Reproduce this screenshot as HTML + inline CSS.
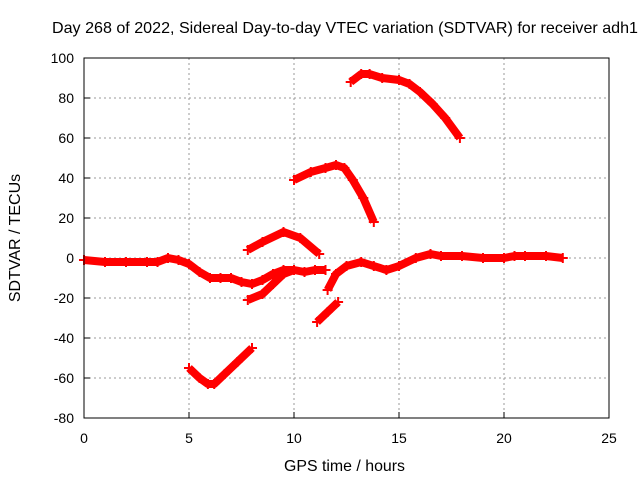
<!DOCTYPE html>
<html><head><meta charset="utf-8"><style>
body{margin:0;background:#fff}
svg text{font-family:"Liberation Sans",sans-serif;font-size:14px;fill:#000}
svg text.big{font-size:16px}
</style></head><body>
<svg id="chart" width="640" height="480">
<rect width="640" height="480" fill="#fff"/>
<text class="big" x="52" y="33" textLength="586" lengthAdjust="spacingAndGlyphs">Day 268 of 2022, Sidereal Day-to-day VTEC variation (SDTVAR) for receiver adh1</text>
<text class="big" x="284" y="471" textLength="121" lengthAdjust="spacingAndGlyphs">GPS time / hours</text>
<text class="big" transform="translate(20,238) rotate(-90)" text-anchor="middle">SDTVAR / TECUs</text>
<g id="grid"></g><g id="ticks"></g><g id="series"></g>
<rect x="84" y="58" width="525" height="360" fill="none" stroke="#000" stroke-width="1"/>
</svg>
<script>
const xTicks=[0,5,10,15,20,25];
const yTicks=[-80,-60,-40,-20,0,20,40,60,80,100];
const segA=[[0,-1],[1,-2],[2,-2],[3,-2],[3.5,-2],[4,0],[4.5,-1],[5,-3],[5.5,-7],[6,-10],[6.5,-10],[7,-10],[7.5,-12],[8,-13],[8.5,-11],[9,-8],[9.5,-6],[10,-6],[10.5,-7],[11,-6],[11.5,-6]];
const segB=[[7.8,-21],[8.5,-18],[9,-13],[9.5,-8],[10,-6]];
const segC=[[7.8,4],[8.5,8],[9.5,13],[10.3,10],[11.2,2]];
const segD=[[5,-55],[5.5,-60],[5.9,-63],[6.2,-63],[6.7,-58],[7.3,-52],[8,-45]];
const segE=[[10,39],[10.8,43],[11.5,45],[12,46.5],[12.4,45],[12.8,39],[13.3,30],[13.8,18]];
const segF=[[12.7,88],[13.2,92],[13.6,92],[14.2,90],[15,89],[15.5,87],[16,83],[16.6,77],[17.2,70],[17.9,60]];
const segG=[[11.1,-32],[11.6,-27],[12.1,-22]];
const segH=[[11.6,-16],[12,-8],[12.5,-4],[13.2,-2],[13.8,-4],[14.4,-6],[15,-4],[15.8,0],[16.5,2],[17,1],[18,1],[19,0],[20,0],[20.5,1],[21,1],[22,1],[22.8,0]];
const segments=[segA,segB,segC,segD,segE,segF,segG,segH];
const X=v=>84+v*21, Y=v=>258-v*2;
const NS='http://www.w3.org/2000/svg';
const g=document.getElementById('grid'), t=document.getElementById('ticks'), s=document.getElementById('series');
function mk(tag,attrs,parent){const e=document.createElementNS(NS,tag);for(const k in attrs)e.setAttribute(k,attrs[k]);parent.appendChild(e);return e;}
xTicks.forEach(v=>{
 if(v>0&&v<25){const l=mk('line',{x1:X(v),x2:X(v),y1:58,y2:418,stroke:'#999','stroke-dasharray':'2,3'},g);
 
 }
 mk('line',{x1:X(v),x2:X(v),y1:418,y2:412,stroke:'#000'},t);
 const tx=mk('text',{x:X(v),y:443,'text-anchor':'middle'},t);tx.textContent=v;
 
 
});
yTicks.forEach(v=>{
 if(v>-80&&v<100){const l=mk('line',{x1:84,x2:609,y1:Y(v),y2:Y(v),stroke:'#999','stroke-dasharray':'2,3'},g);
 
 }
 mk('line',{x1:84,x2:90,y1:Y(v),y2:Y(v),stroke:'#000'},t);
 const tx=mk('text',{x:74,y:Y(v)+5,'text-anchor':'end'},t);tx.textContent=v;
 
 
});
segments.forEach((seg,i)=>{
 const p=mk('polyline',{points:seg.map(d=>X(d[0])+','+Y(d[1])).join(' '),fill:'none',stroke:'#f00','stroke-width':8,'stroke-linejoin':'round'},s);
 
 
 seg.forEach(d=>{
  const m=mk('path',{d:`M${X(d[0])-5},${Y(d[1])}h10M${X(d[0])},${Y(d[1])-5}v10`,stroke:'#f00','stroke-width':2},s);
  
  
 });
});
</script>
</body></html>
